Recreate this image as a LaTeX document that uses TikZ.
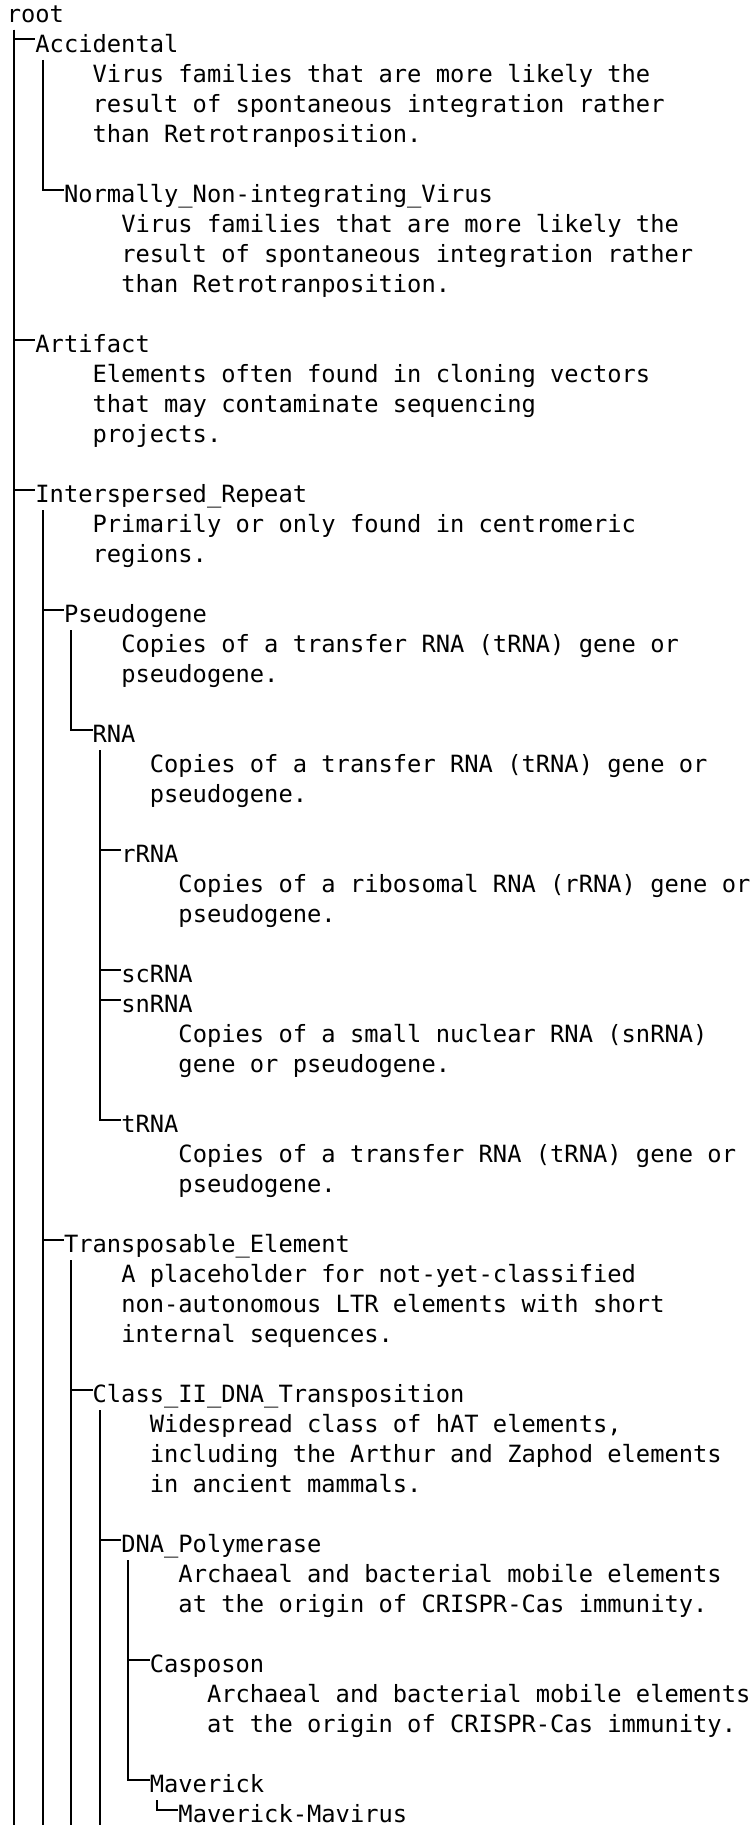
\documentclass[tikz,border=0pt]{standalone}
\usepackage{fontspec}
\newfontfamily\treemono{DejaVu Sans Mono}
\newcommand\tnode[4]{\node[txt] (#1) at ({6.85+14.3*#2},{22.5+30*#3}) {#4};}
\newcommand\trunkat[1]{\coordinate (#1-t) at ([xshift=7.15pt,yshift=-7.5pt]#1.base west);}
\begin{document}
\begin{tikzpicture}[x=1pt,y=-1pt,
  txt/.style={anchor=base west, inner sep=0pt, outer sep=0pt,
    font=\treemono\fontsize{23.75pt}{30pt}\selectfont},
  edge/.style={line width=2pt, black}]
\useasboundingbox[fill=white] (0,0) rectangle (753,1825);
\coordinate (bottom) at (0,1825);
% names
\tnode{root}{0}{0}{root}
\tnode{acc}{2}{1}{Accidental}
\tnode{acc1}{6}{2}{Virus families that are more likely the}
\tnode{acc2}{6}{3}{result of spontaneous integration rather}
\tnode{acc3}{6}{4}{than Retrotranposition.}
\tnode{norm}{4}{6}{Normally\_Non-integrating\_Virus}
\tnode{norm1}{8}{7}{Virus families that are more likely the}
\tnode{norm2}{8}{8}{result of spontaneous integration rather}
\tnode{norm3}{8}{9}{than Retrotranposition.}
\tnode{art}{2}{11}{Artifact}
\tnode{art1}{6}{12}{Elements often found in cloning vectors}
\tnode{art2}{6}{13}{that may contaminate sequencing}
\tnode{art3}{6}{14}{projects.}
\tnode{inter}{2}{16}{Interspersed\_Repeat}
\tnode{inter1}{6}{17}{Primarily or only found in centromeric}
\tnode{inter2}{6}{18}{regions.}
\tnode{pseudo}{4}{20}{Pseudogene}
\tnode{pseudo1}{8}{21}{Copies of a transfer RNA (tRNA) gene or}
\tnode{pseudo2}{8}{22}{pseudogene.}
\tnode{rna}{6}{24}{RNA}
\tnode{rna1}{10}{25}{Copies of a transfer RNA (tRNA) gene or}
\tnode{rna2}{10}{26}{pseudogene.}
\tnode{rrna}{8}{28}{rRNA}
\tnode{rrna1}{12}{29}{Copies of a ribosomal RNA (rRNA) gene or}
\tnode{rrna2}{12}{30}{pseudogene.}
\tnode{scrna}{8}{32}{scRNA}
\tnode{snrna}{8}{33}{snRNA}
\tnode{snrna1}{12}{34}{Copies of a small nuclear RNA (snRNA)}
\tnode{snrna2}{12}{35}{gene or pseudogene.}
\tnode{trna}{8}{37}{tRNA}
\tnode{trna1}{12}{38}{Copies of a transfer RNA (tRNA) gene or}
\tnode{trna2}{12}{39}{pseudogene.}
\tnode{trans}{4}{41}{Transposable\_Element}
\tnode{trans1}{8}{42}{A placeholder for not-yet-classified}
\tnode{trans2}{8}{43}{non-autonomous LTR elements with short}
\tnode{trans3}{8}{44}{internal sequences.}
\tnode{class}{6}{46}{Class\_II\_DNA\_Transposition}
\tnode{class1}{10}{47}{Widespread class of hAT elements,}
\tnode{class2}{10}{48}{including the Arthur and Zaphod elements}
\tnode{class3}{10}{49}{in ancient mammals.}
\tnode{dnapol}{8}{51}{DNA\_Polymerase}
\tnode{dnapol1}{12}{52}{Archaeal and bacterial mobile elements}
\tnode{dnapol2}{12}{53}{at the origin of CRISPR-Cas immunity.}
\tnode{casp}{10}{55}{Casposon}
\tnode{casp1}{14}{56}{Archaeal and bacterial mobile elements}
\tnode{casp2}{14}{57}{at the origin of CRISPR-Cas immunity.}
\tnode{mav}{10}{59}{Maverick}
\tnode{mavmav}{12}{60}{Maverick-Mavirus}
% trunks
\trunkat{root}\trunkat{acc}\trunkat{inter}\trunkat{pseudo}\trunkat{rna}
\trunkat{trans}\trunkat{class}\trunkat{dnapol}\trunkat{mav}
% connectors
\draw[edge] (root-t) -- (root-t |- bottom);
\draw[edge] (root-t) |- ([yshift=13pt]acc.base west);
\draw[edge] (root-t) |- ([yshift=13pt]art.base west);
\draw[edge] (root-t) |- ([yshift=13pt]inter.base west);
\draw[edge] (acc-t) |- ([yshift=13pt]norm.base west);
\draw[edge] (inter-t) -- (inter-t |- bottom);
\draw[edge] (inter-t) |- ([yshift=13pt]pseudo.base west);
\draw[edge] (inter-t) |- ([yshift=13pt]trans.base west);
\draw[edge] (pseudo-t) |- ([yshift=13pt]rna.base west);
\draw[edge] (rna-t) |- ([yshift=13pt]rrna.base west);
\draw[edge] (rna-t) |- ([yshift=13pt]scrna.base west);
\draw[edge] (rna-t) |- ([yshift=13pt]snrna.base west);
\draw[edge] (rna-t) |- ([yshift=13pt]trna.base west);
\draw[edge] (trans-t) -- (trans-t |- bottom);
\draw[edge] (trans-t) |- ([yshift=13pt]class.base west);
\draw[edge] (class-t) -- (class-t |- bottom);
\draw[edge] (class-t) |- ([yshift=13pt]dnapol.base west);
\draw[edge] (dnapol-t) |- ([yshift=13pt]casp.base west);
\draw[edge] (dnapol-t) |- ([yshift=13pt]mav.base west);
\draw[edge] (mav-t) |- ([yshift=13pt]mavmav.base west);
\end{tikzpicture}
\end{document}
